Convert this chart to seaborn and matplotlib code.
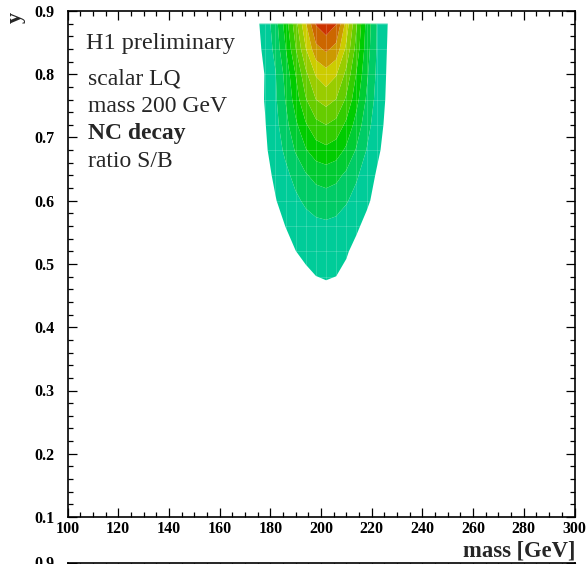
import numpy as np
import matplotlib
matplotlib.use("Agg")
import matplotlib.pyplot as plt
from matplotlib.collections import LineCollection
from matplotlib.ticker import MultipleLocator, FixedLocator, FixedFormatter
import seaborn as sns

# Signal/background ratio for a 200 GeV scalar leptoquark (NC decay),
# tabulated on a (mass, y) grid.
mass_nodes = [174, 178, 182, 186, 190, 194, 198, 202, 206, 210, 214, 218, 222, 226, 230]
y_nodes = [0.44, 0.48, 0.52, 0.56, 0.60, 0.64, 0.68, 0.72, 0.76, 0.80, 0.84, 0.88]
ratio_sb = [
    [0.00, 0.00, 0.01, 0.03, 0.12, 0.32, 0.58, 0.70, 0.66, 0.54, 0.39, 0.25, 0.14, 0.07, 0.03],
    [0.00, 0.00, 0.01, 0.08, 0.45, 0.81, 0.99, 1.05, 0.995, 0.81, 0.59, 0.38, 0.21, 0.11, 0.05],
    [0.20, 0.34, 0.53, 0.75, 0.99, 1.21, 1.36, 1.42, 1.32, 1.08, 0.76, 0.47, 0.25, 0.12, 0.05],
    [0.30, 0.49, 0.73, 1.01, 1.31, 1.57, 1.75, 1.82, 1.73, 1.47, 1.13, 0.77, 0.48, 0.27, 0.13],
    [0.37, 0.62, 0.95, 1.36, 1.79, 2.19, 2.46, 2.56, 2.43, 2.09, 1.63, 1.15, 0.73, 0.42, 0.22],
    [0.41, 0.72, 1.16, 1.72, 2.33, 2.90, 3.30, 3.45, 3.27, 2.79, 2.14, 1.47, 0.91, 0.51, 0.25],
    [0.46, 0.86, 1.45, 2.22, 3.10, 3.93, 4.53, 4.75, 4.50, 3.81, 2.90, 1.97, 1.20, 0.66, 0.32],
    [0.49, 0.96, 1.67, 2.65, 3.79, 4.89, 5.70, 6.00, 5.67, 4.77, 3.59, 2.41, 1.44, 0.77, 0.36],
    [0.49, 1.07, 1.84, 3.04, 4.49, 5.92, 7.00, 7.40, 6.97, 5.83, 4.33, 2.86, 1.67, 0.87, 0.40],
    [0.46, 1.05, 1.93, 3.30, 5.02, 6.77, 8.10, 8.60, 8.08, 6.72, 4.93, 3.20, 1.83, 0.93, 0.42],
    [0.59, 1.26, 2.30, 3.95, 5.95, 7.95, 9.70, 10.20, 9.65, 7.75, 5.60, 3.50, 1.95, 1.00, 0.43],
    [0.68, 1.44, 2.55, 4.45, 6.60, 8.90, 11.10, 11.70, 11.05, 8.60, 6.10, 3.70, 2.00, 1.05, 0.45],
]
contour_levels = [1, 2, 3, 4, 5, 6, 7, 8, 9, 10, 11, 12]
band_colors = ["#00cc99", "#00cc66", "#00cc33", "#00cc00", "#33cc00", "#66cc00",
               "#99cc00", "#cccc00", "#cc9900", "#cc6600", "#cc3300"]
info_lines = ["scalar LQ", "mass 200 GeV", "NC decay", "ratio S/B"]

sns.set_theme(style="ticks")
plt.rcParams["font.family"] = ["Liberation Serif", "DejaVu Serif"]
plt.rcParams["font.weight"] = "bold"
plt.rcParams["axes.unicode_minus"] = False

W, H = 587, 564
fig = plt.figure(figsize=(W / 100, H / 100), dpi=100)
fig.patch.set_facecolor("white")

ax_l, ax_r, ax_t, ax_b = 67.5, 574.5, 11.0, 517.0


def frame(ax):
    ax.set_facecolor("white")
    ax.set_xlim(100, 300)
    ax.set_ylim(0.1, 0.9)
    ax.xaxis.set_major_locator(MultipleLocator(20))
    ax.xaxis.set_minor_locator(MultipleLocator(5))
    ax.yaxis.set_major_locator(MultipleLocator(0.1))
    ax.yaxis.set_minor_locator(MultipleLocator(0.02))
    ax.yaxis.set_major_formatter(matplotlib.ticker.FormatStrFormatter("%.1f"))
    for s in ax.spines.values():
        s.set_linewidth(1.2)
        s.set_color("black")
    ax.tick_params(which="both", direction="in", top=True, right=True,
                   color="black", width=0.9, labelsize=11.5, labelcolor="black")
    ax.tick_params(which="major", length=6.5)
    ax.tick_params(which="minor", length=3.6)
    ax.tick_params(axis="x", which="major", pad=3.0)
    ax.tick_params(axis="y", which="major", pad=9.5)


ax = fig.add_axes([ax_l / W, (H - ax_b) / H, (ax_r - ax_l) / W, (ax_b - ax_t) / H])
frame(ax)

ax.contourf(mass_nodes, y_nodes, np.array(ratio_sb), levels=contour_levels,
            colors=band_colors, antialiased=True)

# faint cell seams inside the filled region
outline = ax.contourf(mass_nodes, y_nodes, np.array(ratio_sb),
                      levels=[contour_levels[0], 1e3], colors="none")
clip_path = outline.get_paths()[0]
segs = [[(m, y_nodes[0]), (m, y_nodes[-1])] for m in mass_nodes]
segs += [[(mass_nodes[0], y), (mass_nodes[-1], y)] for y in y_nodes]
seams = LineCollection(segs, colors="white", linewidths=0.6, alpha=0.2, zorder=3)
ax.add_collection(seams)
seams.set_clip_path(clip_path, ax.transData)

# second panel below; only its top edge is in view
ax2 = fig.add_axes([ax_l / W, (H - 562.5 - (ax_b - ax_t)) / H,
                    (ax_r - ax_l) / W, (ax_b - ax_t) / H])
frame(ax2)
ax2.tick_params(axis="x", labelbottom=False)
ax2.yaxis.set_major_locator(FixedLocator([0.9]))
ax2.yaxis.set_major_formatter(FixedFormatter(["0.9"]))


def px(x, y):
    return x / W, 1 - y / H


fig.text(*px(86, 48.5), "H1 preliminary", fontsize=17.5, fontweight="normal",
         va="baseline", ha="left")
for k, line in enumerate(info_lines):
    fig.text(*px(88.3, 84 + 27.6 * k), line, fontsize=17, va="baseline", ha="left",
             fontweight="bold" if line == "NC decay" else "normal")

fig.text(*px(575, 557), "mass [GeV]", fontsize=16.3, fontweight="bold",
         ha="right", va="baseline")
fig.text(*px(16, 17), "y", fontsize=16, fontweight="bold", rotation=90,
         ha="center", va="center")

fig.savefig("out.png", dpi=100)
